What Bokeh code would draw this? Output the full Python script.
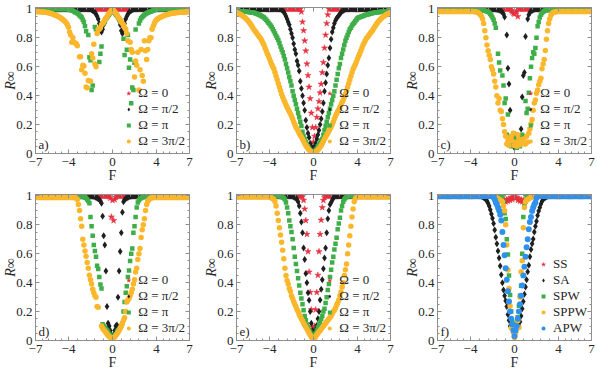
from bokeh.plotting import figure
from bokeh.layouts import row, column
from bokeh.models import (Range1d, FixedTicker, LinearAxis, Label, Legend,
                          LegendItem, CustomJSTickFormatter)
from bokeh.embed import file_html
from bokeh.resources import INLINE

# ---------------- data ----------------
# F grid of the computation: -7.0 ... 7.0, step 0.1
F_START = -7.0
F_STEP = 0.1
F_COUNT = 141
# Each series below lists R_inf at F = -k, -k+0.1, ..., +k (10 values per row);
# outside [-k, k] the series sits on its plateau value (EDGE_*). None = no point.

OMEGA_LABELS = ["Ω = 0", "Ω = π/2", "Ω = π", "Ω = 3π/2"]
SCHEME_LABELS = ["SS", "SA", "SPW", "SPPW", "APW"]
X_TICKS = [-7, -4, 0, 4, 7]
Y_TICKS = [0, 0.2, 0.4, 0.6, 0.8, 1]

# ---- panel a ----
A_RED = [1.0]
A_BLACK = [
    1.0, 0.995, 0.99, 0.985, 0.975, 0.965, 0.95, 0.93, 0.9, 0.87,
    0.84, 0.86, 0.89, 0.91, 0.93, 0.94, 0.95, 0.96, 0.97, 0.98,
    0.99, 0.98, 0.97, 0.96, 0.95, 0.94, 0.92, 0.89, 0.85, 0.83,
    0.86, 0.9, 0.93, 0.95, 0.965, 0.975, 0.985, 0.99, 0.995, 0.998,
    1.0]
A_GREEN = [
    0.997, 0.995, 0.993, 0.99, 0.987, 0.983, 0.978, 0.975, 0.97, 0.965,
    0.955, 0.95, 0.94, 0.925, 0.91, 0.88, 0.845, None, 0.82, 0.665,
    0.645, 0.44, 0.47, None, 0.875, 0.86, None, None, 0.633, 0.69,
    0.74, None, 0.9, 0.91, 0.93, 0.94, 0.955, 0.965, 0.975, 0.985,
    0.995, 0.985, 0.975, 0.965, 0.955, 0.94, 0.93, 0.91, None, None,
    0.794, 0.682, None, 0.718, 0.82, 0.594, 0.65, 0.348, 0.456, 0.439,
    0.628, 0.858, None, None, 0.9, 0.92, 0.935, 0.945, 0.952, 0.96,
    0.965, 0.97, 0.974, 0.977, 0.98, 0.983, 0.986, 0.989, 0.992, 0.994,
    0.997]
A_ORANGE = [
    0.982, 0.982, 0.981, 0.981, 0.98, 0.98, 0.979, 0.979, 0.978, 0.977,
    0.976, 0.975, 0.973, 0.971, 0.969, 0.966, 0.963, 0.96, 0.957, 0.954,
    0.95, 0.946, 0.942, 0.937, 0.932, 0.926, 0.92, 0.912, 0.903, 0.89,
    0.873, 0.84, 0.82, 0.77, 0.8, 0.77, 0.765, 0.76, 0.745, None,
    0.67, 0.67, 0.58, 0.61, 0.605, 0.555, 0.46, 0.455, 0.505, None,
    0.5, 0.69, 0.66, 0.756, 0.62, 0.6, 0.83, 0.86, 0.86, 0.87,
    0.89, 0.9, 0.91, 0.925, 0.935, 0.945, 0.96, 0.97, 0.98, 0.99,
    1.0, 0.99, 0.98, 0.97, 0.96, 0.945, 0.935, 0.925, 0.91, 0.9,
    0.89, 0.87, 0.86, 0.83, 0.78, None, 0.77, 0.72, 0.7, None,
    0.53, 0.64, 0.61, 0.7, 0.44, 0.58, 0.72, 0.54, 0.5, 0.78,
    0.71, 0.65, 0.72, 0.78, 0.8, 0.8, 0.86, 0.88, 0.9, 0.915,
    0.925, 0.93, 0.936, 0.94, 0.945, 0.948, 0.952, 0.955, 0.958, 0.96,
    0.962, 0.964, 0.966, 0.968, 0.97, 0.971, 0.972, 0.973, 0.974, 0.975,
    0.976, 0.977, 0.977, 0.978, 0.978, 0.979, 0.979, 0.98, 0.98, 0.981,
    0.981]
EDGE_A = [1.0, 1.0, 1.0, 0.981]

# ---- panel b ----
B_RED = [
    1.0, 1.0, 1.0, 1.0, 1.0, 1.0, 1.0, 1.0, 1.0, 0.98,
    0.91, 0.85, 0.78, 0.71, 0.62, 0.54, 0.46, 0.38, 0.28, 0.18,
    0.08, 0.12, 0.18, 0.25, 0.31, 0.36, 0.42, 0.48, 0.56, 0.63,
    0.73, 0.82, 0.9, 0.96, 1.0, 1.0, 1.0, 1.0, 1.0, 1.0,
    1.0]
B_BLACK = [
    1.0, 0.995, 0.99, 0.98, 0.965, 0.95, 0.93, 0.91, 0.89, 0.86,
    0.83, 0.8, 0.76, 0.72, 0.69, 0.64, 0.61, 0.57, 0.5, 0.45,
    0.4, 0.35, 0.3, 0.23, 0.18, 0.14, 0.11, 0.07, 0.05, 0.03,
    0.02, 0.05, 0.07, 0.1, 0.13, 0.16, 0.2, 0.24, 0.29, 0.35,
    0.43, 0.49, 0.55, 0.61, 0.66, 0.73, 0.79, 0.84, 0.87, 0.9,
    0.92, 0.935, 0.945, 0.955, 0.965, 0.975, 0.985, 0.99, 0.995, 0.998,
    1.0]
B_GREEN = [
    0.985, 0.985, 0.984, 0.984, 0.983, 0.983, 0.982, 0.982, 0.981, 0.981,
    0.98, 0.979, 0.978, 0.977, 0.976, 0.975, 0.973, 0.971, 0.968, 0.965,
    0.962, 0.958, 0.954, 0.95, 0.946, 0.94, 0.933, 0.925, 0.915, 0.905,
    0.895, 0.885, 0.875, 0.86, 0.845, 0.83, 0.815, 0.8, 0.785, 0.765,
    0.74, 0.72, 0.7, 0.675, 0.65, 0.62, 0.59, 0.56, 0.53, 0.5,
    0.47, 0.43, 0.4, 0.37, 0.34, 0.31, 0.28, 0.25, 0.22, 0.19,
    0.15, 0.12, 0.1, 0.08, 0.065, 0.05, 0.035, 0.025, 0.015, 0.01,
    0.005, 0.015, 0.025, 0.035, 0.05, 0.06, 0.075, 0.09, 0.1, 0.13,
    0.16, 0.19, 0.22, 0.25, 0.28, 0.31, 0.34, 0.37, 0.4, 0.43,
    0.47, 0.51, 0.55, 0.59, 0.62, 0.66, 0.69, 0.72, 0.75, 0.78,
    0.8, 0.82, 0.84, 0.86, 0.87, 0.885, 0.895, 0.905, 0.915, 0.925,
    0.935, 0.94, 0.943, 0.946, 0.949, 0.952, 0.955, 0.958, 0.96, 0.962,
    0.964, 0.966, 0.968, 0.97, 0.972, 0.974, 0.975, 0.976, 0.977, 0.978,
    0.979, 0.98, 0.98, 0.981, 0.981, 0.982, 0.982, 0.983, 0.983, 0.984,
    0.984]
B_ORANGE = [
    0.975, 0.972, 0.968, 0.964, 0.96, 0.955, 0.95, 0.945, 0.938, 0.93,
    0.922, 0.913, 0.903, 0.892, 0.88, 0.868, 0.856, 0.845, 0.835, 0.825,
    0.815, 0.805, 0.795, 0.78, 0.765, 0.75, 0.73, 0.71, 0.69, 0.675,
    0.655, 0.635, 0.615, 0.6, 0.585, 0.56, 0.535, 0.51, 0.485, 0.46,
    0.435, 0.41, 0.39, 0.37, 0.355, 0.335, 0.32, 0.305, 0.29, 0.275,
    0.26, 0.24, 0.22, 0.2, 0.183, 0.17, 0.155, 0.14, 0.127, 0.115,
    0.1, 0.085, 0.07, 0.055, 0.045, 0.035, 0.025, 0.018, 0.012, 0.007,
    0.003, 0.007, 0.012, 0.018, 0.025, 0.035, 0.045, 0.055, 0.07, 0.085,
    0.1, 0.115, 0.127, 0.14, 0.155, 0.17, 0.183, 0.2, 0.22, 0.24,
    0.26, 0.275, 0.29, 0.305, 0.32, 0.335, 0.355, 0.37, 0.39, 0.41,
    0.435, 0.46, 0.485, 0.51, 0.535, 0.56, 0.585, 0.6, 0.615, 0.635,
    0.655, 0.675, 0.69, 0.71, 0.73, 0.75, 0.765, 0.78, 0.795, 0.805,
    0.815, 0.825, 0.835, 0.845, 0.856, 0.868, 0.88, 0.892, 0.903, 0.913,
    0.922, 0.93, 0.938, 0.945, 0.95, 0.955, 0.96, 0.964, 0.968, 0.972,
    0.975]
EDGE_B = [1.0, 1.0, 0.984, 0.975]

# ---- panel c ----
C_RED = [
    1.0, 1.0, 1.0, 1.0, 1.0, 1.0, 1.0, 0.99, 0.98, 0.97,
    0.965, 0.975, 0.985, 0.947, 1.0, 1.0, 1.0, 1.0, 1.0, 1.0,
    1.0]
C_BLACK = [
    1.0, 1.0, 1.0, 0.998, 0.996, 0.994, 0.992, 0.99, 0.985, 0.978,
    0.965, 0.945, None, 0.82, 0.59, 0.48, 0.3, None, 0.08, 0.1,
    0.04, 0.13, 0.08, None, None, None, 0.17, 0.39, 0.54, 0.56,
    0.81, None, 0.93, 0.96, 0.975, 0.985, 0.99, 0.995, 0.998, 1.0,
    1.0]
C_GREEN = [
    0.993, 0.992, 0.99, 0.988, 0.986, 0.983, 0.98, 0.975, 0.965, 0.955,
    0.94, 0.925, 0.9, 0.87, None, 0.69, 0.63, 0.575, None, 0.54,
    0.47, 0.35, 0.38, 0.13, 0.27, 0.12, 0.066, 0.05, 0.09, 0.14,
    0.108, 0.06, 0.04, 0.076, 0.1, 0.05, 0.12, 0.13, None, 0.12,
    0.363, 0.28, 0.31, 0.42, 0.52, 0.6, 0.66, 0.7, 0.69, 0.73,
    0.8, 0.88, 0.91, 0.94, 0.96, 0.972, 0.98, 0.985, 0.99, 0.992,
    0.993]
C_ORANGE = [
    0.982, 0.982, 0.982, 0.982, 0.981, 0.98, 0.978, 0.974, 0.968, 0.96,
    0.95, 0.93, 0.9, 0.85, 0.8, 0.75, 0.71, 0.68, 0.65, 0.6,
    0.58, 0.55, 0.5, 0.46, 0.4, 0.35, 0.38, 0.3, 0.29, 0.24,
    0.2, 0.15, 0.12, 0.065, 0.087, 0.055, 0.1, 0.12, 0.087, 0.14,
    0.055, 0.076, 0.05, 0.13, 0.098, 0.06, 0.076, 0.087, 0.1, 0.065,
    0.065, 0.12, 0.08, 0.14, 0.17, 0.204, 0.236, 0.3, 0.35, 0.37,
    0.416, 0.44, 0.476, 0.5, 0.52, 0.586, 0.62, 0.65, 0.713, 0.79,
    0.85, 0.9, 0.93, 0.955, 0.968, 0.975, 0.978, 0.98, 0.981, 0.982,
    0.982]
EDGE_C = [1.0, 1.0, 0.993, 0.982]

# ---- panel d ----
D_RED = [
    1.0, 1.0, 1.0, 1.0, 1.0, 1.0, 0.998, 0.995, 0.985, 0.855,
    0.97, 0.83, 0.975, 0.99, 0.998, 1.0, 1.0, 1.0, 1.0, 1.0,
    1.0]
D_BLACK = [
    1.0, 1.0, 0.998, 0.997, 0.995, 0.99, 0.985, 0.98, 0.975, 0.965,
    0.95, 0.86, 0.724, 0.66, 0.48, 0.235, 0.12, 0.1, 0.07, 0.04,
    0.015, 0.04, 0.07, 0.1, 0.107, 0.3, 0.48, 0.615, 0.746, 0.887,
    0.96, 0.974, 0.98, 0.985, 0.99, 0.995, 0.997, 0.998, 1.0, 1.0,
    1.0]
D_GREEN = [
    0.995, 0.995, 0.995, 0.995, 0.993, 0.99, 0.985, 0.975, 0.965, 0.95,
    0.854, 0.79, 0.724, 0.66, 0.62, 0.58, 0.517, 0.495, 0.44, 0.387,
    0.36, 0.113, 0.1, 0.09, 0.08, 0.07, 0.06, 0.045, 0.035, 0.025,
    0.015, 0.025, 0.035, 0.045, 0.06, 0.07, 0.08, 0.09, 0.1, 0.12,
    0.2, 0.267, 0.33, 0.376, 0.44, 0.485, 0.55, 0.6, 0.637, 0.746,
    0.79, 0.854, 0.92, 0.955, 0.97, 0.98, 0.985, 0.99, 0.993, 0.995,
    0.995]
D_ORANGE = [
    0.99, 0.99, 0.99, 0.99, 0.99, 0.99, 0.988, 0.985, 0.975, 0.94,
    0.9, 0.843, 0.79, 0.7, 0.66, 0.62, 0.583, 0.54, 0.5, 0.452,
    0.42, 0.39, 0.354, 0.33, 0.31, 0.3, 0.235, 0.23, None, None,
    0.1, 0.085, 0.075, 0.065, 0.055, 0.045, 0.035, 0.028, 0.02, 0.012,
    0.005, 0.015, 0.025, 0.035, 0.045, 0.055, 0.07, 0.085, 0.1, 0.12,
    0.14, 0.157, 0.2, 0.266, 0.28, 0.29, 0.31, 0.33, 0.354, 0.39,
    0.42, 0.474, 0.5, 0.56, 0.6, 0.637, 0.713, 0.767, 0.8, 0.843,
    0.9, 0.94, 0.96, 0.974, 0.98, 0.985, 0.988, 0.99, 0.99, 0.99,
    0.99]
EDGE_D = [1.0, 1.0, 0.995, 0.99]

# ---- panel e ----
E_RED = [
    0.995, 0.97, 0.91, 0.83, 0.735, 0.615, 0.474, 0.333, 0.213, 0.093,
    0.05, 0.1, 0.213, 0.333, 0.452, 0.615, 0.735, 0.833, 0.92, 0.97,
    0.99]
E_BLACK = [
    1.0, 0.998, 0.995, 0.99, 0.985, 0.975, 0.96, 0.93, 0.88, 0.82,
    0.745, 0.64, 0.56, 0.463, 0.4, 0.33, 0.278, 0.2, 0.12, 0.07,
    0.03, 0.05, 0.08, 0.104, 0.15, 0.2, 0.28, 0.354, 0.42, 0.496,
    0.57, 0.64, 0.745, 0.843, 0.9, 0.94, 0.955, 0.97, 0.985, 0.995,
    1.0]
E_GREEN = [
    0.998, 0.995, 0.99, 0.985, 0.975, 0.955, 0.92, 0.88, 0.83, 0.79,
    0.75, 0.7, 0.64, 0.58, 0.53, 0.48, 0.43, 0.38, 0.33, 0.29,
    0.25, 0.21, 0.17, 0.14, 0.11, 0.09, 0.075, 0.06, 0.045, 0.03,
    0.02, 0.035, 0.05, 0.07, 0.09, 0.11, 0.13, 0.15, 0.17, 0.2,
    0.22, 0.26, 0.3, 0.35, 0.39, 0.44, 0.49, 0.54, 0.58, 0.63,
    0.67, 0.71, 0.77, 0.81, 0.85, 0.9, 0.93, 0.96, 0.975, 0.985,
    0.995]
E_ORANGE = [
    0.995, 0.99, 0.985, 0.98, 0.975, 0.96, 0.93, 0.88, 0.83, 0.78,
    0.73, 0.68, 0.625, 0.565, 0.5, 0.45, 0.415, 0.39, 0.36, 0.34,
    0.31, 0.29, 0.27, 0.25, 0.235, 0.215, 0.2, 0.18, 0.165, 0.15,
    0.137, 0.12, 0.105, 0.093, 0.08, 0.065, 0.05, 0.038, 0.025, 0.015,
    0.005, 0.015, 0.03, 0.04, 0.05, 0.06, 0.07, 0.08, 0.09, 0.1,
    0.11, 0.12, 0.13, 0.14, 0.15, 0.16, 0.17, 0.185, 0.2, 0.21,
    0.225, 0.245, 0.26, 0.28, 0.31, 0.335, 0.37, 0.4, 0.45, 0.49,
    0.53, 0.6, 0.66, 0.725, 0.79, 0.855, 0.91, 0.96, 0.98, 0.99,
    0.995]
EDGE_E = [1.0, 1.0, 1.0, 0.995]

# ---- panel f ----
F_SS = [
    0.95, 0.97, 0.96, 0.975, 0.965, 0.98, 0.97, 0.99, 0.975, 0.99,
    1.0, 0.985, 0.99, 0.97, 0.98, 0.965, 0.975, 0.96, 0.97, 0.95,
    0.965]
F_SA = [
    0.998, 0.995, 0.99, 0.985, 0.975, 0.965, 0.95, 0.93, 0.905, 0.875,
    0.845, 0.81, 0.765, 0.715, 0.67, 0.62, 0.57, 0.515, 0.455, 0.4,
    0.35, 0.31, 0.275, 0.235, 0.18, 0.14, 0.1, None, None, None,
    None, None, None, None, 0.1, 0.13, 0.17, 0.22, 0.27, 0.32,
    0.37, 0.42, 0.476, 0.52, 0.58, 0.63, 0.67, 0.703, 0.75, 0.79,
    0.825, 0.865, 0.895, 0.92, 0.945, 0.963, 0.975, 0.985, 0.99, 0.995,
    0.998]
F_SPW = [
    0.96, 0.88, 0.84, 0.7, 0.595, 0.45, 0.314, 0.2, 0.13, 0.06,
    0.03, 0.08, 0.12, 0.16, 0.24, 0.31, 0.379, 0.6, 0.855, 0.93,
    0.963]
F_SPPW = [
    1.0, 0.998, 0.995, 0.99, 0.985, 0.98, 0.975, 0.97, 0.965, 0.96,
    0.93, 0.898, 0.8, 0.66, 0.487, 0.36, 0.238, 0.087, 0.1, 0.054,
    0.02, 0.05, 0.1, 0.136, 0.09, 0.3, 0.476, 0.552, 0.78, 0.92,
    0.96, 0.97, 0.975, 0.98, 0.985, 0.99, 0.993, 0.995, 0.997, 0.998,
    1.0]
F_APW = [
    1.0, 0.99, 0.975, 0.955, 0.94, 0.92, 0.9, 0.87, 0.83, 0.75,
    0.66, 0.59, 0.5, 0.42, 0.34, 0.27, 0.2, 0.15, 0.11, 0.07,
    0.03, 0.07, 0.1, 0.15, 0.2, 0.25, 0.31, 0.38, 0.45, 0.51,
    0.58, 0.645, 0.7, 0.77, 0.82, 0.855, 0.895, 0.92, 0.94, 0.955,
    0.985]
EDGE_F = [1.0, 1.0, 1.0, 1.0, 1.0]

PANELS = [
    ("a)", [A_RED, A_BLACK, A_GREEN, A_ORANGE], EDGE_A, OMEGA_LABELS),
    ("b)", [B_RED, B_BLACK, B_GREEN, B_ORANGE], EDGE_B, OMEGA_LABELS),
    ("c)", [C_RED, C_BLACK, C_GREEN, C_ORANGE], EDGE_C, OMEGA_LABELS),
    ("d)", [D_RED, D_BLACK, D_GREEN, D_ORANGE], EDGE_D, OMEGA_LABELS),
    ("e)", [E_RED, E_BLACK, E_GREEN, E_ORANGE], EDGE_E, OMEGA_LABELS),
    ("f)", [F_SS, F_SA, F_SPW, F_SPPW, F_APW], EDGE_F, SCHEME_LABELS),
]

# ---------------- style ----------------
FONT = "Liberation Serif"
GRAY = "#8e8e8e"
TEXT = "#262626"
STYLES = [("star", "#e6313f", 6.5), ("diamond", "#1f1f1f", 7),
          ("square", "#3fae49", 4.5), ("circle", "#fbb72c", 5.5),
          ("circle", "#2e91ee", 6)]
FW, FH = 154, 146
X_MINOR = [-6.4, -5.8, -5.2, -4.6, -3.2, -2.4, -1.6, -0.8,
           0.8, 1.6, 2.4, 3.2, 4.6, 5.2, 5.8, 6.4]
Y_MINOR = [0.05, 0.1, 0.15, 0.25, 0.3, 0.35, 0.45, 0.5, 0.55,
           0.65, 0.7, 0.75, 0.85, 0.9, 0.95]


def expand(vals, edge):
    if (len(vals) - 1) % 20:
        raise ValueError("series length must be 20k+1, got %d" % len(vals))
    k = (len(vals) - 1) // 20
    xs, ys = [], []
    for i in range(F_COUNT):
        f = round(F_START + i * F_STEP, 1)
        j = int(round((f + k) * 10))
        y = vals[j] if 0 <= j < len(vals) else edge
        if y is not None:
            xs.append(f)
            ys.append(y)
    return xs, ys


def style_axis(ax, show_labels=True):
    ax.axis_line_color = GRAY
    ax.major_tick_line_color = GRAY
    ax.minor_tick_line_color = GRAY
    ax.major_tick_in = 4
    ax.major_tick_out = 0
    ax.minor_tick_in = 2
    ax.minor_tick_out = 0
    ax.major_label_text_font = FONT
    if show_labels:
        ax.major_label_text_color = TEXT
        ax.major_label_text_font_size = "13px"
        ax.major_label_standoff = 3
    else:
        ax.formatter = CustomJSTickFormatter(code="return ''")
        ax.major_label_text_color = None
        ax.major_label_text_font_size = "1px"
        ax.major_label_standoff = 0


def make_panel(idx):
    tag, series, edges, labels = PANELS[idx]
    col = idx % 3
    p = figure(frame_width=FW, frame_height=FH,
               x_range=Range1d(-7, 7), y_range=Range1d(0, 1.01),
               output_backend="svg", toolbar_location=None, tools="",
               min_border_left=30, min_border_right=12 if col < 2 else 4,
               min_border_top=7, min_border_bottom=34)
    p.xgrid.visible = False
    p.ygrid.visible = False
    p.outline_line_color = GRAY
    p.background_fill_color = "white"
    p.border_fill_color = "white"

    xt = FixedTicker(ticks=X_TICKS, minor_ticks=X_MINOR)
    yt = FixedTicker(ticks=Y_TICKS, minor_ticks=Y_MINOR)
    p.xaxis.ticker = xt
    p.yaxis.ticker = yt
    p.yaxis.formatter = CustomJSTickFormatter(code="return String(tick)")
    for ax in p.xaxis:
        style_axis(ax)
        ax.major_label_standoff = 4
        ax.axis_label = "F"
        ax.axis_label_text_font = FONT
        ax.axis_label_text_font_style = "normal"
        ax.axis_label_text_font_size = "14px"
        ax.axis_label_text_color = TEXT
        ax.axis_label_standoff = -1
    for ax in p.yaxis:
        style_axis(ax)
        ax.axis_label = "R∞"
        ax.axis_label_text_font = FONT
        ax.axis_label_text_font_style = "italic"
        ax.axis_label_text_font_size = "14px"
        ax.axis_label_text_color = TEXT
        ax.axis_label_standoff = -5
    top = LinearAxis(ticker=xt)
    style_axis(top, False)
    p.add_layout(top, "above")
    right = LinearAxis(ticker=yt)
    style_axis(right, False)
    p.add_layout(right, "right")

    items = []
    for vals, edge, lab, (mk, colr, sz) in zip(series, edges, labels, STYLES):
        xs, ys = expand(vals, edge)
        if mk == "star":
            r = p.scatter(xs, ys, marker=mk, size=sz, fill_color=colr,
                          line_color=colr, line_width=0.5)
        else:
            r = p.scatter(xs, ys, marker=mk, size=sz, fill_color=colr,
                          line_color=None)
        items.append(LegendItem(label=lab, renderers=[r]))

    leg = Legend(items=items, location="bottom_right",
                 background_fill_alpha=0, border_line_alpha=0,
                 label_text_font=FONT, label_text_font_size="13px",
                 label_text_color=TEXT, glyph_width=10, glyph_height=14,
                 label_height=14, label_standoff=5, spacing=0,
                 padding=1, margin=3)
    p.add_layout(leg)

    p.add_layout(Label(x=3, y=2, x_units="screen", y_units="screen",
                       text=tag, text_font=FONT, text_font_size="13px",
                       text_color=TEXT, text_baseline="bottom"))
    return p


figs = [make_panel(i) for i in range(6)]
layout = column(row(figs[0], figs[1], figs[2]), row(figs[3], figs[4], figs[5]))

open("out.html", "w").write(file_html(layout, INLINE, title="R_inf vs F"))
